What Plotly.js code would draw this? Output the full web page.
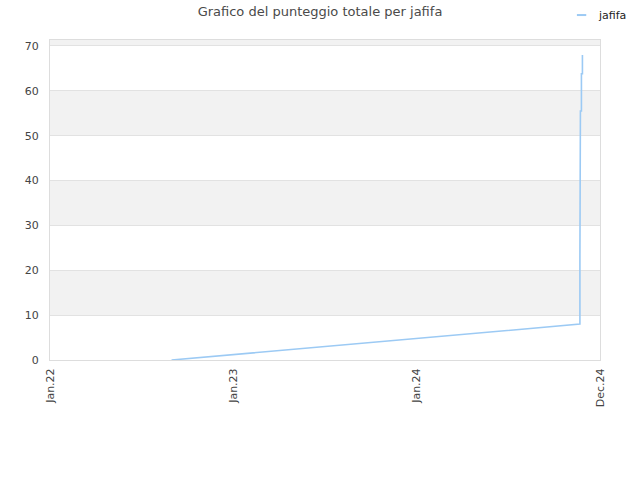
<!DOCTYPE html>
<html>
<head>
<meta charset="utf-8">
<script src="https://cdn.plot.ly/plotly-3.0.1.min.js"></script>
<style>html,body{margin:0;padding:0;background:#fff}#chart{width:640px;height:480px}</style>
</head>
<body>
<div id="chart"></div>
<script>
// Data
const seriesName = "jafifa";
const dates = ["2022-08-31", "2024-11-21", "2024-11-21", "2024-11-21", "2024-11-21", "2024-11-22", "2024-11-22", "2024-11-24", "2024-11-24", "2024-11-26", "2024-11-26"];
const scores = [0, 8.0, 22.7, 43.0, 47.0, 47.0, 55.5, 55.5, 63.8, 63.8, 68.0];

const xTickVals = ["2022-01-01", "2023-01-01", "2024-01-01", "2024-12-31"];
const xTickText = ["Jan.22", "Jan.23", "Jan.24", "Dec.24"];
const yTickVals = [0, 10, 20, 30, 40, 50, 60, 70];
const xRange = ["2022-01-01", "2024-12-31"];
const yRange = [0, 71.33];

const lineColor = "#9ccaf4";

// alternating shaded bands between ticks
const shapes = [];
yTickVals.forEach((v, i) => {
  if (i % 2 === 1) {
    const top = i + 1 < yTickVals.length ? yTickVals[i + 1] : yRange[1];
    shapes.push({type: "rect", xref: "paper", yref: "y", x0: 0, x1: 1, y0: v, y1: Math.min(top, yRange[1]),
      fillcolor: "#f2f2f2", line: {width: 0}, layer: "below"});
  }
});
// small legend key (short line like the reference)
shapes.push({type: "line", xref: "paper", yref: "paper", x0: 0.958, x1: 0.975, y0: 1.078, y1: 1.078,
  line: {color: lineColor, width: 2}});

const trace = {
  x: dates, y: scores, type: "scatter", mode: "lines", name: seriesName, showlegend: false,
  line: {color: lineColor, width: 1.6}
};

const layout = {
  width: 640, height: 480,
  margin: {l: 50, r: 40, t: 40, b: 120, autoexpand: false},
  paper_bgcolor: "#ffffff", plot_bgcolor: "#ffffff",
  font: {family: "DejaVu Sans, sans-serif", size: 11, color: "#444"},
  title: {text: "Grafico del punteggio totale per jafifa", x: 0.5, xanchor: "center", y: 0.985, yanchor: "top",
    font: {family: "DejaVu Sans, sans-serif", size: 13, color: "#4a4a4a"}},
  showlegend: false,
  annotations: [{text: seriesName, xref: "paper", yref: "paper", x: 0.993, y: 1.078, xanchor: "left", yanchor: "middle",
    showarrow: false, font: {size: 11, color: "#222"}}],
  xaxis: {type: "date", range: xRange, tickmode: "array", tickvals: xTickVals, ticktext: xTickText,
    tickangle: -90, showgrid: false, zeroline: false, showline: true, mirror: true, linecolor: "#dddddd", linewidth: 1,
    ticks: "", ticklabelstandoff: 3, tickfont: {size: 11, color: "#444"}},
  yaxis: {range: yRange, tickmode: "array", tickvals: yTickVals, showgrid: true, gridcolor: "#e2e2e2",
    zeroline: false, showline: true, mirror: true, linecolor: "#dddddd", linewidth: 1,
    ticks: "", ticklabelstandoff: 8, tickfont: {size: 11, color: "#444"}},
  shapes: shapes
};

Plotly.newPlot("chart", [trace], layout, {displayModeBar: false, staticPlot: true});
</script>
</body>
</html>
